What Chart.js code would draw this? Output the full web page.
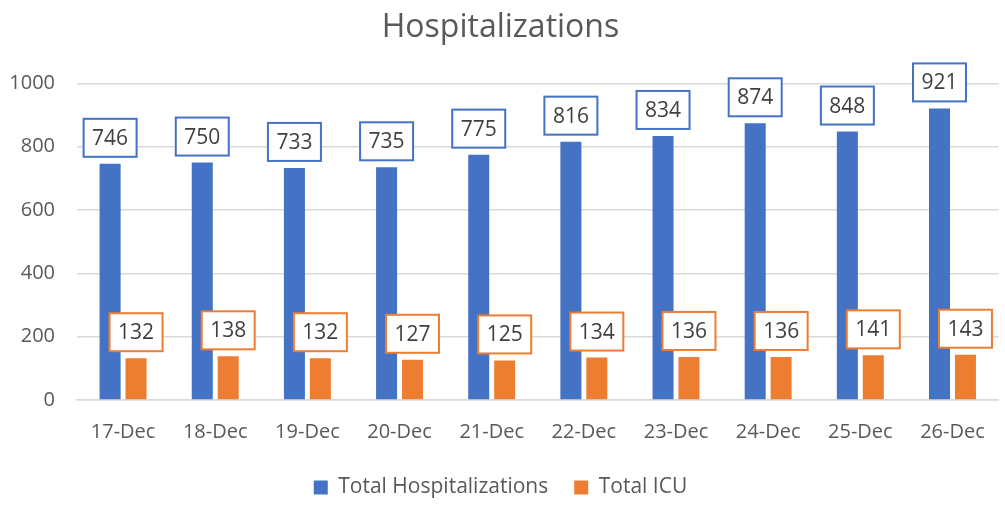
<!DOCTYPE html>
<html>
<head>
<meta charset="utf-8">
<script src="https://cdn.jsdelivr.net/npm/chart.js@4.4.1/dist/chart.umd.min.js"></script>
<style>
  html, body { margin: 0; padding: 0; background: #fff; }
  #wrap { width: 1005px; height: 508px; }
</style>
</head>
<body>
<div id="wrap"><canvas id="chart"></canvas></div>
<script>
const days = ['17-Dec', '18-Dec', '19-Dec', '20-Dec', '21-Dec', '22-Dec', '23-Dec', '24-Dec', '25-Dec', '26-Dec'];
const totalHosp = [746, 750, 733, 735, 775, 816, 834, 874, 848, 921];
const totalIcu = [132, 138, 132, 127, 125, 134, 136, 136, 141, 143];

const grey = '#595959';
const fontName = '"Open Sans", Lato, sans-serif';

// boxed value labels above each bar, like the excel data callouts
const boxLabels = {
  id: 'boxLabels',
  afterDatasetsDraw(chart) {
    const ctx = chart.ctx;
    ctx.save();
    ctx.font = '21px ' + fontName;
    ctx.textAlign = 'center';
    ctx.textBaseline = 'middle';
    chart.data.datasets.forEach((ds, i) => {
      const meta = chart.getDatasetMeta(i);
      meta.data.forEach((bar, j) => {
        const w = 53, h = 38;
        const bottom = bar.y - 7;
        ctx.fillStyle = '#fff';
        ctx.fillRect(bar.x - w / 2, bottom - h, w, h);
        ctx.strokeStyle = ds.backgroundColor;
        ctx.lineWidth = 2;
        ctx.strokeRect(bar.x - w / 2, bottom - h, w, h);
        ctx.fillStyle = '#404040';
        ctx.fillText(ds.data[j], bar.x, bottom - h / 2 + 1);
      });
    });
    ctx.restore();
  }
};

new Chart(document.getElementById('chart'), {
  type: 'bar',
  data: {
    labels: days,
    datasets: [
      { label: 'Total Hospitalizations', data: totalHosp, backgroundColor: '#4472C4' },
      { label: 'Total ICU', data: totalIcu, backgroundColor: '#ED7D31' }
    ]
  },
  options: {
    responsive: true,
    maintainAspectRatio: false,
    animation: false,
    categoryPercentage: 0.563,
    barPercentage: 0.81,
    layout: { padding: { left: 0, right: 4, top: 0, bottom: 0 } },
    plugins: {
      title: {
        display: true,
        text: 'Hospitalizations',
        color: grey,
        font: { family: fontName, size: 32, weight: 'normal' },
        padding: { top: 9, bottom: 36 }
      },
      legend: {
        position: 'bottom',
        labels: {
          color: grey,
          font: { family: fontName, size: 21 },
          boxWidth: 14,
          boxHeight: 14,
          padding: 26
        }
      },
      tooltip: { enabled: false }
    },
    scales: {
      x: {
        grid: { display: false, drawTicks: false },
        border: { color: '#d9d9d9', width: 1.5 },
        ticks: { color: grey, font: { family: fontName, size: 20 }, padding: 20 },
        afterFit(scale) { scale.height = 51; }
      },
      y: {
        min: 0,
        max: 1000,
        ticks: {
          stepSize: 200,
          color: grey,
          font: { family: fontName, size: 20 },
          padding: 22,
          callback: v => String(v)
        },
        grid: { color: '#d9d9d9', lineWidth: 1.5, drawTicks: false },
        border: { display: false },
        afterFit(scale) { scale.width = 77; }
      }
    }
  },
  plugins: [boxLabels]
});
</script>
</body>
</html>
